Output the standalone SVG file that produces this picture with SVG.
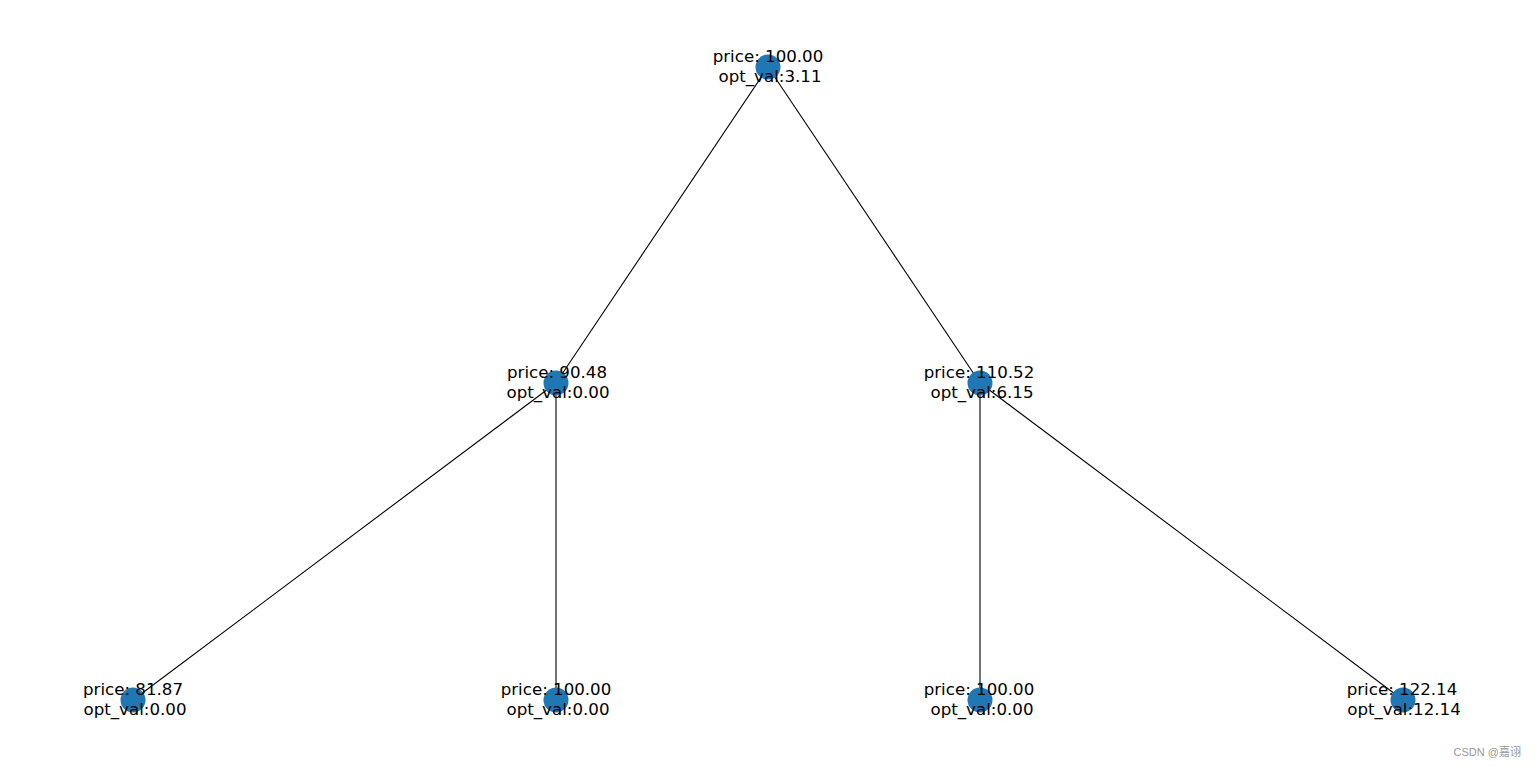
<svg xmlns="http://www.w3.org/2000/svg" width="1536" height="767" viewBox="0 0 1536 767">
<style>
.edge{stroke:#000;stroke-width:1.1;fill:none}
.node circle{fill:#1f77b4}
.node text{font-family:"DejaVu Sans",sans-serif;font-size:16.67px;fill:#000;text-anchor:middle}
.wm{font-family:"Liberation Sans","Noto Sans CJK SC",sans-serif;font-size:11px;fill:#999;text-anchor:end}
</style>
<rect width="1536" height="767" fill="#fff"/>
<g id="connectors">
<line class="edge" x1="768" y1="67" x2="556" y2="383"/>
<line class="edge" x1="768" y1="67" x2="980" y2="383"/>
<line class="edge" x1="556" y1="383" x2="133" y2="700"/>
<line class="edge" x1="556" y1="383" x2="556" y2="700"/>
<line class="edge" x1="980" y1="383" x2="980" y2="700"/>
<line class="edge" x1="980" y1="383" x2="1403" y2="700"/>
</g>
<g id="n0" class="node"><circle cx="768" cy="67" r="12.5"/><text x="768" y="61.5">price: 100.00</text><text x="770" y="81.5">opt_val:3.11</text></g>
<g id="n1" class="node"><circle cx="556" cy="383" r="12.5"/><text x="557" y="377.5">price: 90.48</text><text x="558" y="397.5">opt_val:0.00</text></g>
<g id="n2" class="node"><circle cx="980" cy="383" r="12.5"/><text x="979" y="377.5">price: 110.52</text><text x="982" y="397.5">opt_val:6.15</text></g>
<g id="n3" class="node"><circle cx="133" cy="700" r="12.5"/><text x="133" y="694.5">price: 81.87</text><text x="135" y="714.5">opt_val:0.00</text></g>
<g id="n4" class="node"><circle cx="556" cy="700" r="12.5"/><text x="556" y="694.5">price: 100.00</text><text x="558" y="714.5">opt_val:0.00</text></g>
<g id="n5" class="node"><circle cx="980" cy="700" r="12.5"/><text x="979" y="694.5">price: 100.00</text><text x="982" y="714.5">opt_val:0.00</text></g>
<g id="n6" class="node"><circle cx="1403" cy="700" r="12.5"/><text x="1402" y="694.5">price: 122.14</text><text x="1404" y="714.5">opt_val:12.14</text></g>
<text class="wm" x="1521" y="756">CSDN @嘉诩</text>
</svg>
